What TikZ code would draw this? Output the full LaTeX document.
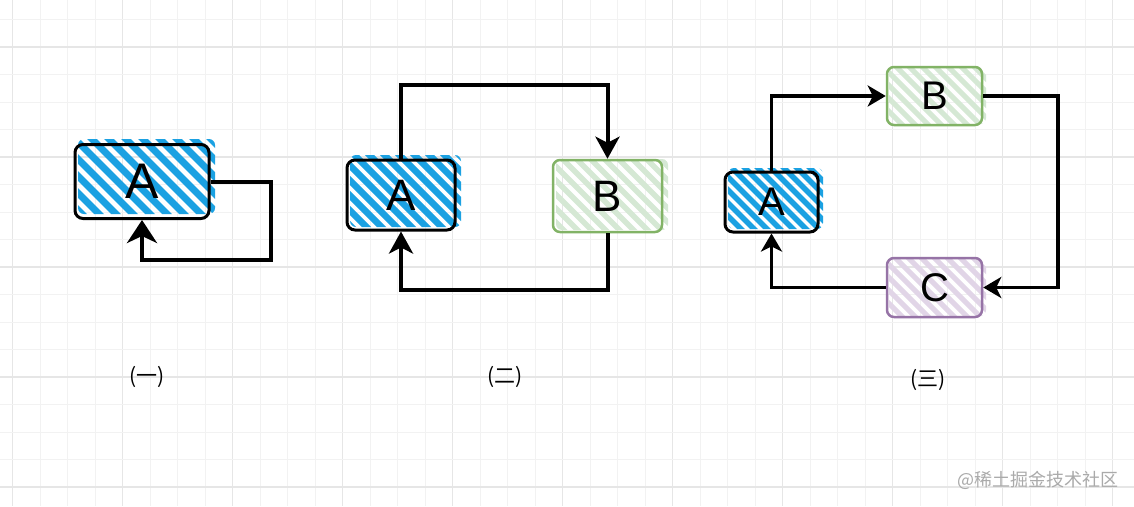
\documentclass[tikz,border=0pt]{standalone}
\usepackage{fontspec}
\setmainfont{Liberation Sans}
\newfontfamily\cjkfont{Noto Sans CJK SC}
\usetikzlibrary{arrows.meta}
\definecolor{hatchblue}{HTML}{1BA1E2}
\definecolor{greenline}{HTML}{82B366}
\definecolor{greenhatch}{HTML}{D5E8D4}
\definecolor{purpleline}{HTML}{9673A6}
\definecolor{purplehatch}{HTML}{E1D5E7}
\definecolor{gridminor}{HTML}{F2F2F2}
\definecolor{gridmajor}{HTML}{E6E6E6}
\definecolor{wmark}{HTML}{AAAAAA}
% hatch region: x1 y1 x2 y2 colour sep width
\newcommand\hatchrect[7]{%
  \begin{scope}
    \clip[rounded corners=6pt] (#1,#2) rectangle (#3,#4);
    \foreach \k in {-16,...,16}{
      \draw[line width=#7pt, draw=#5, line cap=round]
        ({(#1+#3)/2+\k*#6},{(#2+#4)/2}) +(-110,-110) -- +(110,110);
    }
  \end{scope}}
\tikzset{
  boxblue/.style={draw=black, line width=3pt, rounded corners=8pt, inner sep=0pt},
  boxgreen/.style={draw=greenline, line width=2.5pt, rounded corners=7pt, inner sep=0pt},
  boxpurple/.style={draw=purpleline, line width=2.5pt, rounded corners=7pt, inner sep=0pt},
  connA/.style={draw=black, line width=4pt,
    -{Stealth[length=23pt,width=30pt,inset=7pt]}},
  connB/.style={draw=black, line width=4pt,
    -{Stealth[length=22pt,width=24pt,inset=6pt]}},
  connC/.style={draw=black, line width=3.5pt,
    -{Stealth[length=18pt,width=21pt,inset=5pt]}},
  caption/.style={font=\cjkfont\fontsize{21}{21}\selectfont, text=black},
}
\begin{document}
\begin{tikzpicture}[x=1pt,y=-1pt]
\useasboundingbox (0,0) rectangle (1134,506);
\fill[white] (0,0) rectangle (1134,506);
% background grid
\foreach \i in {0,...,41}{
  \pgfmathsetmacro\gx{12.5+27.5*\i}
  \pgfmathtruncatemacro\gm{mod(\i,4)}
  \ifnum\gm=0
    \draw[gridmajor, line width=1.2pt] (\gx,0) -- (\gx,506);
  \else
    \draw[gridminor, line width=1pt] (\gx,0) -- (\gx,506);
  \fi
}
\foreach \j in {0,...,18}{
  \pgfmathsetmacro\gy{19.5+27.5*\j}
  \pgfmathtruncatemacro\gm{mod(\j+3,4)}
  \ifnum\gm=0
    \draw[gridmajor, line width=1.2pt] (0,\gy) -- (1134,\gy);
  \else
    \draw[gridminor, line width=1pt] (0,\gy) -- (1134,\gy);
  \fi
}

% hatch fills (sketch style, slightly offset)
\hatchrect{78}{139}{215}{214}{hatchblue}{17}{7}
\hatchrect{350}{155}{461}{227}{hatchblue}{15}{6.5}
\hatchrect{556}{159}{668}{230}{greenhatch}{14}{5.5}
\hatchrect{728}{168}{823}{229}{hatchblue}{13}{5.5}
\hatchrect{889}{66}{986}{124}{greenhatch}{13}{5}
\hatchrect{889}{258}{986}{316}{purplehatch}{13}{5}

% ---------- panel 1 ----------
\node[boxblue, minimum width=134, minimum height=74,
  font=\fontsize{50}{50}\selectfont] (a1) at (142,181.5) {A};
\coordinate (l1) at (271,260);
\draw[connA] (a1.east) -| (l1) -| (a1.south);

% ---------- panel 2 ----------
\node[boxblue, minimum width=108, minimum height=70,
  font=\fontsize{44}{44}\selectfont] (a2) at (401,195) {A};
\node[boxgreen, minimum width=109, minimum height=72,
  font=\fontsize{44}{44}\selectfont] (b2) at (607.5,196) {B};
\coordinate (t2) at (500,85);
\coordinate (u2) at (500,290);
\draw[connB] (a2.north) |- (t2) -| (b2.north);
\draw[connB] (b2.south) |- (u2) -| (a2.south);

% ---------- panel 3 ----------
\node[boxblue, minimum width=93, minimum height=60,
  font=\fontsize{40}{40}\selectfont] (a3) at (771.5,202) {A};
\node[boxgreen, minimum width=95, minimum height=58,
  font=\fontsize{40}{40}\selectfont] (b3) at (934.5,96) {B};
\node[boxpurple, minimum width=95, minimum height=59,
  font=\fontsize{40}{40}\selectfont] (c3) at (934.5,287.5) {C};
\coordinate (r3) at (1058,190);
\draw[connC] (a3.north) |- (b3.west);
\draw[connC] (b3.east) -| (r3) |- (c3.east);
\draw[connC] (c3.west) -| (a3.south);

% ---------- captions ----------
\node[caption] (cap1) at (147,377) {(一)};
\node[caption] (cap2) at (505,377) {(二)};
\node[caption] (cap3) at (928,380) {(三)};

% watermark
\node[font=\cjkfont\fontsize{18}{18}\selectfont, text=wmark] (wm) at (1038,480)
  {@稀土掘金技术社区};
\end{tikzpicture}
\end{document}
